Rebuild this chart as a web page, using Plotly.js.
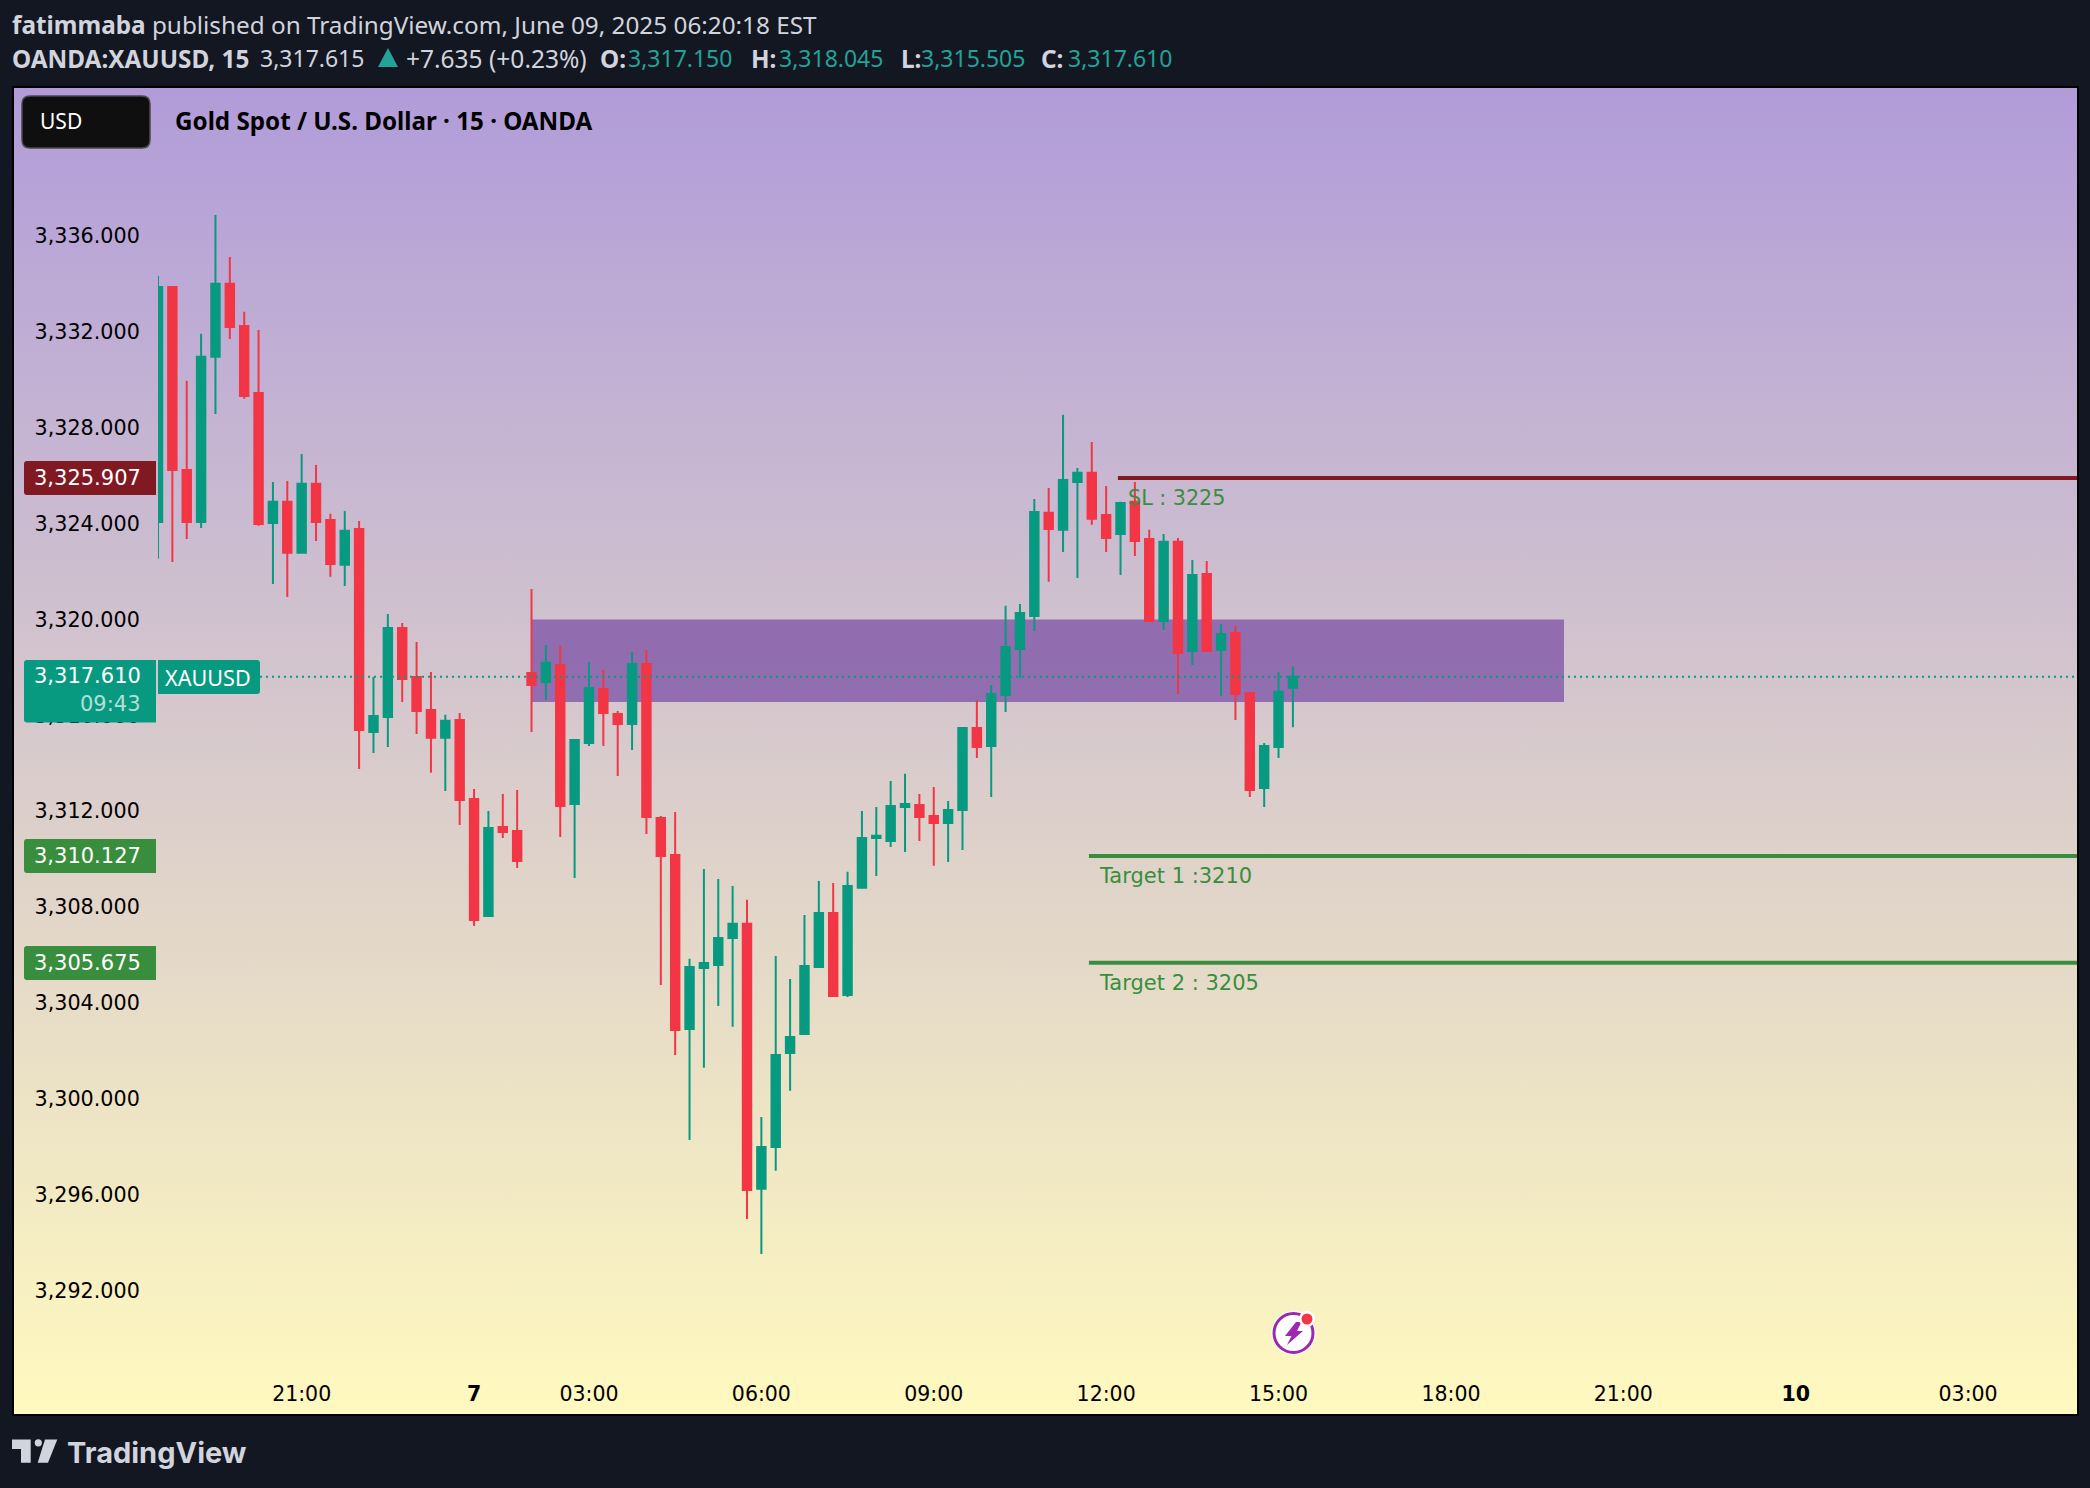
<!DOCTYPE html>
<html><head><meta charset="utf-8">
<script src="https://cdn.plot.ly/plotly-3.0.1.min.js"></script>
<style>
html,body{margin:0;padding:0;background:#131722;width:2090px;height:1488px;overflow:hidden}
#panel{position:absolute;left:12px;top:86px;width:2063px;height:1326px;border:2px solid #000;background:linear-gradient(180deg,#b19cd9 0%,#fff9bf 100%)}
#chart{position:absolute;left:0;top:0;width:2090px;height:1488px}
</style></head><body>
<div id="panel"></div><div id="chart"></div>
<script>
const opens=[3324.07,3333.88,3326.24,3324.07,3330.96,3334.01,3332.25,3329.45,3324.03,3324.91,3322.78,3325.66,3324.15,3322.28,3323.78,3315.31,3315.93,3319.65,3317.60,3316.22,3315.06,3315.81,3312.51,3307.63,3311.34,3311.17,3317.77,3317.39,3318.10,3312.30,3314.85,3317.10,3316.06,3315.64,3318.14,3311.72,3310.17,3302.91,3305.46,3305.58,3306.71,3307.30,3296.24,3297.99,3301.91,3302.70,3305.50,3307.75,3304.33,3308.80,3310.88,3310.76,3312.18,3312.26,3311.80,3311.51,3312.05,3315.47,3314.72,3316.85,3318.77,3320.15,3324.45,3323.74,3325.74,3326.12,3324.36,3323.57,3324.91,3323.36,3319.94,3323.24,3318.69,3321.90,3318.73,3319.44,3316.93,3312.97,3314.68,3317.15];
const highs=[3334.34,3333.88,3329.96,3331.92,3336.88,3335.13,3332.84,3332.08,3325.74,3325.78,3326.91,3326.45,3324.41,3324.53,3324.11,3317.60,3320.23,3319.85,3319.06,3317.81,3316.02,3316.10,3312.93,3312.01,3312.72,3312.88,3321.27,3318.94,3318.90,3315.01,3318.23,3317.89,3316.18,3318.64,3318.73,3311.80,3311.97,3305.84,3309.59,3309.17,3308.88,3308.30,3299.24,3305.96,3305.00,3307.67,3309.09,3309.00,3309.47,3312.01,3312.18,3313.26,3313.56,3312.72,3313.01,3312.43,3315.47,3316.64,3317.27,3320.57,3320.65,3325.03,3325.49,3328.54,3326.32,3327.41,3325.57,3324.91,3325.74,3323.74,3323.57,3323.40,3322.48,3322.44,3319.81,3319.73,3316.93,3314.85,3317.81,3318.045];
const lows=[3322.53,3322.40,3323.36,3323.82,3328.58,3331.71,3329.21,3323.91,3321.48,3320.94,3322.74,3323.28,3321.78,3321.40,3313.76,3314.43,3314.68,3316.56,3315.22,3313.60,3312.84,3311.42,3307.21,3307.63,3310.88,3309.63,3315.31,3316.64,3310.92,3309.21,3314.72,3314.72,3313.47,3314.55,3311.05,3304.75,3301.83,3298.28,3301.29,3303.87,3303.00,3294.98,3293.52,3296.99,3300.33,3302.70,3305.50,3304.29,3304.25,3308.80,3309.30,3310.51,3310.30,3310.76,3309.72,3309.88,3310.38,3314.22,3312.59,3316.14,3317.56,3319.52,3321.57,3322.82,3321.73,3323.95,3322.82,3321.86,3322.65,3319.90,3319.56,3316.89,3318.10,3318.69,3316.81,3315.81,3312.59,3312.18,3314.22,3315.505];
const closes=[3333.88,3326.24,3324.07,3330.96,3334.01,3332.21,3329.33,3323.99,3324.91,3322.78,3325.66,3324.07,3322.32,3323.70,3315.39,3315.97,3319.65,3317.52,3316.18,3315.06,3315.77,3312.47,3307.46,3311.30,3311.13,3309.92,3317.27,3318.19,3312.22,3314.97,3317.14,3316.10,3315.64,3318.14,3311.76,3310.13,3302.87,3305.50,3305.67,3306.71,3307.30,3296.19,3297.99,3301.83,3302.58,3305.54,3307.75,3304.29,3308.88,3310.88,3310.97,3312.22,3312.30,3311.76,3311.51,3312.05,3315.47,3314.68,3316.89,3318.85,3320.27,3324.49,3323.78,3325.82,3326.12,3324.20,3323.40,3324.86,3323.28,3319.94,3323.24,3318.60,3321.86,3318.69,3319.39,3316.89,3312.88,3314.72,3316.98,3317.61];
const timeTickIndex=[10,22,30,42,54,66,78,90,102,114,126];
const timeTickLabels=['21:00','<b>7</b>','03:00','06:00','09:00','12:00','15:00','18:00','21:00','<b>10</b>','03:00'];
const priceTicks=[3292,3296,3300,3304,3308,3312,3316,3320,3324,3328,3332,3336];
const stopLevel=3325.907, target1Level=3310.127, target2Level=3305.675, lastPrice=3317.61;
const zoneTop=3320.0, zoneBottom=3316.56, zoneStart=26, zoneEnd=97.87;
const stopStart=66.82, targetStart=64.8;

const L=158,R=2077,T=88,B=1370;
const px=x=>(x-L)/(R-L), py=y=>(B-y)/(B-T);
const P=(x,y)=>px(x).toFixed(5)+','+py(y).toFixed(5);
const GREEN='#089981',RED='#F23645',GR='#388e3c',MAR='#801922';
function rr(x0,y0,x1,y1,tl,tr,br,bl){
 return 'M'+P(x0+tl,y0)+' L'+P(x1-tr,y0)+' Q'+P(x1,y0)+' '+P(x1,y0+tr)+' L'+P(x1,y1-br)+' Q'+P(x1,y1)+' '+P(x1-br,y1)+' L'+P(x0+bl,y1)+' Q'+P(x0,y1)+' '+P(x0,y1-bl)+' L'+P(x0,y0+tl)+' Q'+P(x0,y0)+' '+P(x0+tl,y0)+' Z';
}
const box=(x0,y0,x1,y1,c,r,lc)=>({type:'path',xref:'paper',yref:'paper',layer:'above',path:rr(x0,y0,x1,y1,r[0],r[1],r[2],r[3]),fillcolor:c,line:{width:lc?1.5:0,color:lc||c}});
const poly=(pts,c)=>({type:'path',xref:'paper',yref:'paper',layer:'above',path:'M'+pts.map(p=>P(p[0],p[1])).join(' L')+' Z',fillcolor:c,line:{width:0}});
const circ=(x,y,r,fill,lc,lw)=>({type:'circle',xref:'paper',yref:'paper',layer:'above',x0:px(x-r),x1:px(x+r),y0:py(y+r),y1:py(y-r),fillcolor:fill,line:{width:lw||0,color:lc||fill}});
const lvl=(x0,y,c,w)=>({type:'line',xref:'x',yref:'y',layer:'above',x0:x0,x1:134,y0:y,y1:y,line:{color:c,width:w}});
const TXT=(x,y,text,opt)=>Object.assign({xref:'paper',yref:'paper',x:px(x),y:py(y),text:text,showarrow:false,xanchor:'left',yanchor:'middle',borderpad:0,font:{family:'DejaVu Sans',size:20.5,color:'#000'}},opt||{});
const teal='#22a397';

const shapes=[
 {type:'rect',xref:'x',yref:'y',layer:'below',x0:zoneStart,x1:zoneEnd,y0:zoneBottom,y1:zoneTop,fillcolor:'rgba(131,90,170,0.82)',line:{width:0}},
 lvl(stopStart,stopLevel,MAR,4),
 lvl(targetStart,target1Level,GR,4),
 lvl(targetStart,target2Level,GR,4),
 {type:'line',xref:'x',yref:'y',layer:'above',x0:0,x1:134,y0:lastPrice,y1:lastPrice,line:{color:GREEN,width:2,dash:'2px,4px'}},
 box(22,96,150,148,'#0f0f0f',[8,8,8,8],'#4a4a4a'),
 box(24,461,156,495,MAR,[3,0,0,3]),
 box(24,660,156,722.5,GREEN,[3,0,0,3]),
 box(24,839,156,873,GR,[3,0,0,3]),
 box(24,946,156,980,GR,[3,0,0,3]),
 box(158,660,260,694,GREEN,[0,3,3,0]),
 poly([[378,67],[388,48],[398,67]],teal),
 circ(1293.5,1333,22,'#ffffff'),
 circ(1293.5,1333,19.5,'#ffffff','#9c27b0',3),
 poly([[1296,1322],[1301.5,1322],[1297,1331],[1303,1331],[1287,1345],[1291.5,1336],[1285,1336]],'#9c27b0'),
 circ(1307,1319,8,'#ffffff'),
 circ(1307,1319,5.5,RED),
 poly([[12,1439.5],[30.7,1439.5],[30.7,1462.7],[21,1462.7],[21,1449],[12,1449]],'#d1d4dc'),
 circ(38.3,1442.8,3.6,'#d1d4dc'),
 poly([[45,1439.5],[57.3,1439.5],[48,1462.7],[37.7,1462.7]],'#d1d4dc')
];

const white={family:'DejaVu Sans',size:21,color:'#ffffff'};
const head={family:'Noto Sans',size:24.3,color:'#d1d4dc'};
const val={family:'Noto Sans',size:23,color:teal};
const num={family:'Noto Sans',size:23,color:'#d1d4dc'};
const annotations=[
 TXT(10.5,24,'<b>fatimmaba</b> published on TradingView.com, June 09, 2025 06:20:18 EST',{font:head}),
 TXT(10.5,58,'<b>OANDA:XAUUSD, 15</b>',{font:head}),
 TXT(259,58,'3,317.615',{font:num}),
 TXT(405,58,'+7.635 (+0.23%)',{font:{family:'Noto Sans',size:24.5,color:'#d1d4dc'}}),
 TXT(599,58,'<b>O:</b>',{font:head}),
 TXT(627,58,'3,317.150',{font:val}),
 TXT(750,58,'<b>H:</b>',{font:head}),
 TXT(778,58,'3,318.045',{font:val}),
 TXT(900,58,'<b>L:</b>',{font:head}),
 TXT(920,58,'3,315.505',{font:val}),
 TXT(1040,58,'<b>C:</b>',{font:head}),
 TXT(1067,58,'3,317.610',{font:val}),
 TXT(39,121,'USD',{font:{family:'Noto Sans',size:21,color:'#ffffff'}}),
 TXT(174,120,'<b>Gold Spot / U.S. Dollar · 15 · OANDA</b>',{font:{family:'Noto Sans',size:24.2,color:'#000000'}}),
 TXT(142,477.5,'3,325.907',{xanchor:'right',font:white}),
 TXT(142,676,'3,317.610',{xanchor:'right',font:white}),
 TXT(142,704,'09:43',{xanchor:'right',font:{family:'DejaVu Sans',size:21,color:'rgba(255,255,255,0.7)'}}),
 TXT(142,856,'3,310.127',{xanchor:'right',font:white}),
 TXT(142,963,'3,305.675',{xanchor:'right',font:white}),
 TXT(208,677,'XAUUSD',{xanchor:'center',font:{family:'Noto Sans',size:21.6,color:'#ffffff'}}),
 TXT(1127,498,'SL : 3225',{font:{family:'DejaVu Sans',size:20.7,color:GR}}),
 TXT(1098,876,'Target 1 :3210',{font:{family:'DejaVu Sans',size:21,color:GR}}),
 TXT(1098,983,'Target 2 : 3205',{font:{family:'DejaVu Sans',size:21,color:GR}}),
 TXT(66,1453,'<b>TradingView</b>',{font:{family:'Inter',size:29,color:'#d1d4dc'}})
];

const candles={type:'candlestick',x:opens.map((_,i)=>i),open:opens,high:highs,low:lows,close:closes,
 increasing:{line:{color:GREEN,width:2},fillcolor:GREEN},decreasing:{line:{color:RED,width:2},fillcolor:RED},whiskerwidth:0,hoverinfo:'skip'};

const layout={width:2090,height:1488,autosize:false,paper_bgcolor:'rgba(0,0,0,0)',plot_bgcolor:'rgba(0,0,0,0)',
 margin:{l:L,r:2090-R,t:T,b:1488-B,pad:0},showlegend:false,boxgap:0.16,
 xaxis:{range:[0,133.58],tickmode:'array',tickvals:timeTickIndex,ticktext:timeTickLabels,showgrid:false,zeroline:false,showline:false,ticks:'outside',ticklen:5,tickcolor:'rgba(0,0,0,0)',tickfont:{family:'DejaVu Sans',size:20.5,color:'#000'},rangeslider:{visible:false},fixedrange:true,automargin:false},
 yaxis:{range:[3288.68,3342.18],tickmode:'array',tickvals:priceTicks,tickformat:',.3f',showgrid:false,zeroline:false,showline:false,ticks:'outside',ticklen:13,tickcolor:'rgba(0,0,0,0)',tickfont:{family:'DejaVu Sans',size:20.7,color:'#000'},ticklabelshift:1.5,fixedrange:true,automargin:false},
 shapes:shapes,annotations:annotations};
Plotly.newPlot('chart',[candles],layout,{displayModeBar:false,staticPlot:true});
</script></body></html>
